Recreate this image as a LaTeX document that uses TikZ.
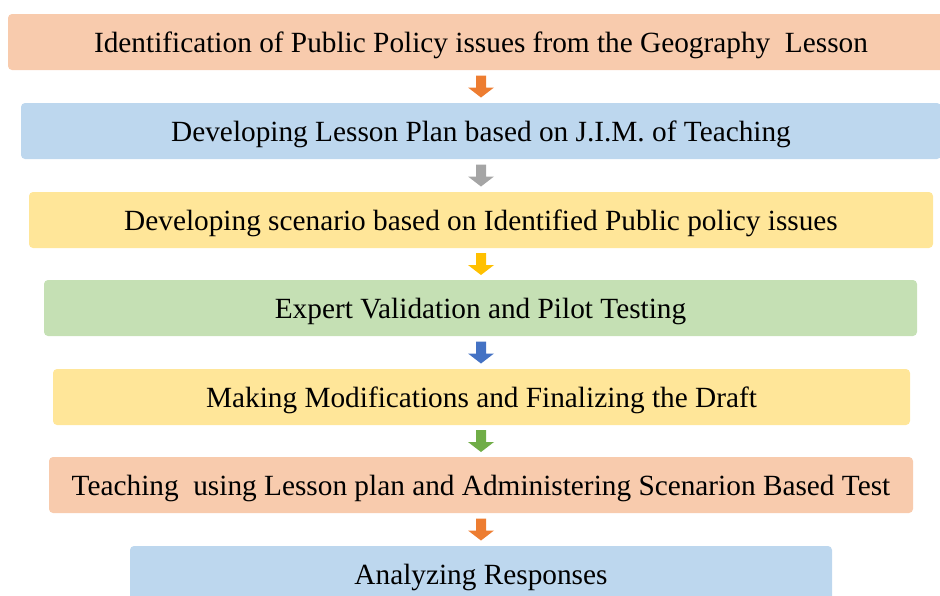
\documentclass[tikz,border=0pt]{standalone}
\usepackage{fontspec}
\setmainfont{Liberation Serif}
\usetikzlibrary{calc}
\definecolor{peach}{HTML}{F8CBAD}
\definecolor{skyblue}{HTML}{BDD7EE}
\definecolor{paleyellow}{HTML}{FFE699}
\definecolor{palegreen}{HTML}{C5E0B4}
\definecolor{arOrange}{HTML}{ED7D31}
\definecolor{arGray}{HTML}{A5A5A5}
\definecolor{arGold}{HTML}{FFC000}
\definecolor{arBlue}{HTML}{4472C4}
\definecolor{arGreen}{HTML}{70AD47}
\tikzset{
  stage/.style={rounded corners=4pt, minimum height=56pt, inner sep=0pt,
    text height=20pt, text depth=0pt,
    font=\fontsize{29.3}{34}\selectfont, text=black},
}
% block arrow pointing down, centred on a coordinate
\newcommand\blockdown[2]{%
  \fill[#2] (#1) ++(-5,-11) -- ++(10,0) -- ++(0,12) -- ++(8,0)
    -- ++(-13,10) -- ++(-13,-10) -- ++(8,0) -- cycle;}
\begin{document}
\begin{tikzpicture}[x=1pt,y=-1pt]
\useasboundingbox (0,0) rectangle (940,595);
\clip (0,0) rectangle (940,595);
\node[stage, fill=peach, minimum width=946pt] (b1) at (481,42)
  {Identification of Public Policy issues from the Geography~ Lesson};
\node[stage, fill=skyblue, minimum width=920pt] (b2) at (481,131)
  {Developing Lesson Plan based on J.I.M. of Teaching};
\node[stage, fill=paleyellow, minimum width=904pt] (b3) at (481,220)
  {Developing scenario based on Identified Public policy issues};
\node[stage, fill=palegreen, minimum width=873pt] (b4) at (480.5,308)
  {Expert Validation and Pilot Testing};
\node[stage, fill=paleyellow, minimum width=857pt] (b5) at (481.5,397)
  {Making Modifications and Finalizing the Draft};
\node[stage, fill=peach, minimum width=864pt] (b6) at (481,485)
  {Teaching~ using Lesson plan and Administering Scenarion Based Test};
\node[stage, fill=skyblue, minimum width=702pt] (b7) at (481,574)
  {Analyzing Responses};
% arrows between consecutive stages
\foreach \a/\b/\c in {b1/b2/arOrange, b2/b3/arGray, b3/b4/arGold,
                      b4/b5/arBlue, b5/b6/arGreen, b6/b7/arOrange} {
  \coordinate (m) at ($(\a.south)!0.5!(\b.north)$);
  \coordinate (m) at (481,0 |- m);
  \blockdown{m}{\c}
}
\end{tikzpicture}
\end{document}
